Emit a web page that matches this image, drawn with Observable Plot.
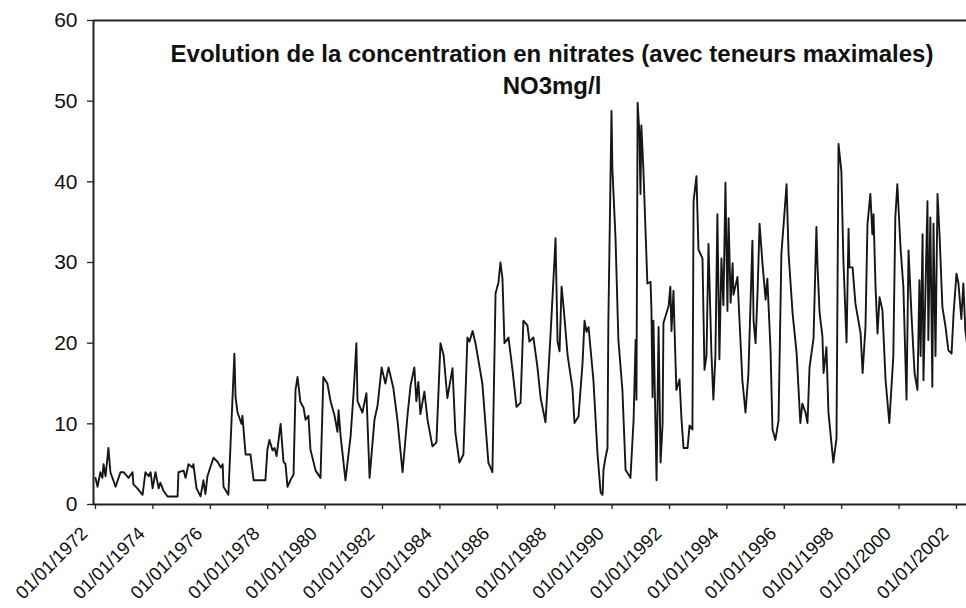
<!DOCTYPE html>
<html>
<head>
<meta charset="utf-8">
<script src="https://cdn.jsdelivr.net/npm/d3@7"></script>
<script src="https://cdn.jsdelivr.net/npm/@observablehq/plot@0.6"></script>
<style>
  html, body { margin: 0; padding: 0; background: #fff; }
  #chart { width: 966px; height: 608px; overflow: hidden; }
</style>
</head>
<body>
<div id="chart"></div>
<script>
const titleLine1 = "Evolution de la concentration en nitrates (avec teneurs maximales)";
const titleLine2 = "NO3mg/l";

const xTicks = [1972, 1974, 1976, 1978, 1980, 1982, 1984, 1986, 1988, 1990, 1992, 1994, 1996, 1998, 2000, 2002];
const yTicks = [0, 10, 20, 30, 40, 50, 60];

// sampling dates (decimal years)
const years = [
  1972.00, 1972.07, 1972.17, 1972.24, 1972.28, 1972.35, 1972.45, 1972.52, 1972.70, 1972.87,
  1972.98, 1973.15, 1973.29, 1973.32, 1973.46, 1973.64, 1973.74, 1973.85, 1973.92, 1973.99,
  1974.09, 1974.20, 1974.26, 1974.37, 1974.51, 1974.86, 1974.89, 1975.07, 1975.14, 1975.24,
  1975.38, 1975.41, 1975.52, 1975.66, 1975.76, 1975.83, 1975.90, 1976.11, 1976.25, 1976.36,
  1976.43, 1976.46, 1976.63, 1976.84, 1976.88, 1976.95, 1977.09, 1977.12, 1977.23, 1977.40,
  1977.51, 1977.92, 1977.99, 1978.06, 1978.17, 1978.24, 1978.31, 1978.45, 1978.55, 1978.62,
  1978.69, 1978.83, 1978.90, 1978.97, 1979.04, 1979.14, 1979.25, 1979.32, 1979.42, 1979.49,
  1979.67, 1979.84, 1979.94, 1980.08, 1980.19, 1980.33, 1980.43, 1980.47, 1980.54, 1980.71,
  1980.89, 1980.99, 1981.09, 1981.13, 1981.30, 1981.44, 1981.55, 1981.72, 1981.83, 1981.97,
  1982.10, 1982.21, 1982.38, 1982.52, 1982.70, 1982.87, 1982.98, 1983.11, 1983.18, 1983.25,
  1983.32, 1983.46, 1983.57, 1983.74, 1983.88, 1984.02, 1984.13, 1984.26, 1984.44, 1984.54,
  1984.68, 1984.82, 1984.96, 1985.03, 1985.14, 1985.24, 1985.48, 1985.69, 1985.83, 1985.94,
  1986.04, 1986.11, 1986.18, 1986.25, 1986.39, 1986.53, 1986.67, 1986.81, 1986.91, 1987.05,
  1987.12, 1987.26, 1987.40, 1987.51, 1987.68, 1987.85, 1987.96, 1988.03, 1988.10, 1988.17,
  1988.24, 1988.31, 1988.45, 1988.62, 1988.69, 1988.83, 1988.97, 1989.04, 1989.11, 1989.18,
  1989.35, 1989.49, 1989.60, 1989.67, 1989.70, 1989.77, 1989.84, 1989.87, 1989.98, 1990.01,
  1990.12, 1990.22, 1990.36, 1990.47, 1990.64, 1990.75, 1990.82, 1990.85, 1990.89, 1990.95,
  1990.99, 1991.02, 1991.09, 1991.23, 1991.34, 1991.37, 1991.41, 1991.44, 1991.55, 1991.62,
  1991.69, 1991.76, 1991.79, 1991.86, 1991.97, 1992.03, 1992.07, 1992.14, 1992.17, 1992.24,
  1992.35, 1992.42, 1992.49, 1992.63, 1992.70, 1992.80, 1992.84, 1992.94, 1993.01, 1993.15,
  1993.22, 1993.29, 1993.36, 1993.46, 1993.53, 1993.60, 1993.67, 1993.74, 1993.81, 1993.88,
  1993.95, 1994.02, 1994.06, 1994.13, 1994.20, 1994.23, 1994.37, 1994.44, 1994.54, 1994.65,
  1994.75, 1994.89, 1994.93, 1995.00, 1995.07, 1995.14, 1995.24, 1995.35, 1995.41, 1995.52,
  1995.59, 1995.69, 1995.80, 1995.90, 1995.97, 1996.08, 1996.15, 1996.29, 1996.43, 1996.56,
  1996.63, 1996.74, 1996.81, 1996.88, 1997.02, 1997.12, 1997.16, 1997.23, 1997.33, 1997.37,
  1997.47, 1997.54, 1997.71, 1997.82, 1997.89, 1997.99, 1998.06, 1998.17, 1998.24, 1998.27,
  1998.38, 1998.48, 1998.66, 1998.73, 1998.83, 1998.90, 1999.00, 1999.07, 1999.11, 1999.18,
  1999.25, 1999.32, 1999.42, 1999.53, 1999.66, 1999.80, 1999.87, 1999.94, 2000.05, 2000.15,
  2000.26, 2000.33, 2000.43, 2000.54, 2000.64, 2000.71, 2000.75, 2000.82, 2000.85, 2000.99,
  2001.02, 2001.09, 2001.16, 2001.20, 2001.27, 2001.34, 2001.41, 2001.51, 2001.62, 2001.72,
  2001.83, 2001.90, 2002.00, 2002.07, 2002.17, 2002.24, 2002.31, 2002.38
];

// nitrate concentration, NO3 mg/l
const no3 = [
  3.3, 2.2, 4.0, 3.3, 5.0, 3.5, 7.0, 4.0, 2.2, 4.0,
  4.0, 3.3, 4.0, 2.5, 2.0, 1.2, 4.0, 3.5, 4.0, 2.0,
  4.0, 2.0, 2.7, 1.7, 1.0, 1.0, 4.0, 4.2, 3.3, 5.0,
  4.6, 5.0, 2.0, 1.0, 3.0, 1.3, 3.5, 5.8, 5.3, 4.6,
  5.0, 2.2, 1.2, 18.7, 13.3, 11.4, 10.0, 11.0, 6.2, 6.2,
  3.0, 3.0, 6.8, 8.0, 6.7, 7.0, 6.0, 10.0, 5.3, 5.0,
  2.2, 3.3, 3.7, 14.2, 15.8, 12.7, 12.0, 10.5, 11.0, 6.8,
  4.2, 3.3, 15.8, 15.0, 12.8, 11.0, 9.0, 11.7, 8.5, 3.0,
  8.5, 13.7, 20.0, 12.8, 11.4, 13.8, 3.3, 10.5, 12.3, 17.0,
  15.0, 17.0, 14.4, 10.5, 4.0, 11.0, 14.8, 17.0, 12.8, 15.2,
  11.2, 14.0, 10.5, 7.2, 7.7, 20.0, 18.5, 13.2, 16.9, 8.9,
  5.2, 6.2, 20.7, 20.2, 21.5, 20.0, 15.0, 5.2, 4.0, 26.2,
  27.5, 30.0, 28.0, 20.0, 20.7, 16.7, 12.1, 12.6, 22.8, 22.2,
  20.2, 20.7, 17.0, 13.2, 10.2, 20.7, 28.1, 33.0, 20.2, 19.0,
  27.0, 24.5, 18.5, 14.4, 10.1, 10.9, 17.5, 22.8, 21.4, 22.0,
  15.4, 6.4, 1.5, 1.2, 4.3, 5.8, 7.0, 22.5, 48.8, 41.7,
  33.0, 20.4, 14.2, 4.3, 3.3, 10.5, 20.4, 13.0, 49.8, 46.2,
  38.5, 47.0, 41.6, 27.4, 27.6, 24.4, 13.3, 22.8, 3.0, 22.0,
  5.2, 10.0, 22.5, 23.3, 24.6, 27.0, 21.5, 26.5, 22.5, 14.2,
  15.5, 10.5, 7.0, 7.0, 9.8, 9.3, 37.6, 40.7, 31.6, 30.5,
  16.7, 18.5, 32.3, 18.9, 13.0, 18.4, 36.0, 18.0, 30.5, 24.7,
  39.9, 24.0, 35.5, 25.0, 29.9, 26.0, 28.2, 22.8, 15.4, 11.4,
  16.2, 32.7, 22.8, 20.0, 26.4, 34.8, 29.9, 25.4, 28.0, 19.3,
  9.3, 8.0, 10.4, 31.1, 34.4, 39.7, 31.1, 23.7, 18.8, 10.1,
  12.5, 11.4, 10.1, 17.0, 20.6, 34.4, 29.4, 23.8, 20.8, 16.3,
  19.5, 11.4, 5.2, 8.2, 44.7, 41.3, 30.3, 20.1, 34.2, 29.4,
  29.4, 24.9, 21.2, 16.3, 22.0, 34.8, 38.5, 33.5, 36.0, 27.0,
  21.2, 25.7, 24.1, 15.4, 10.1, 18.4, 35.6, 39.7, 31.9, 27.0,
  13.0, 31.5, 23.7, 16.3, 14.2, 27.8, 18.4, 33.5, 15.4, 37.6,
  20.4, 35.6, 14.6, 34.8, 18.4, 38.5, 33.5, 24.5, 22.0, 19.1,
  18.7, 23.7, 28.6, 27.4, 23.0, 27.4, 21.6, 19.5
];

const data = years.map((t, i) => ({t, v: no3[i]}));

const chart = Plot.plot({
  width: 966,
  height: 608,
  marginLeft: 93,
  marginRight: 0,
  marginTop: 20,
  marginBottom: 104,
  style: {fontFamily: "'Liberation Sans', Arial, sans-serif", color: "#111", background: "#fff"},
  x: {domain: [1971.93, 2002.35]},
  y: {domain: [0, 60]},
  marks: [
    Plot.axisY({ticks: yTicks, tickSize: 6, tickPadding: 10, fontSize: 21, label: null, stroke: "#222", strokeWidth: 1.3}),
    // tick marks only
    Plot.axisX({ticks: xTicks, tickSize: 5, fill: "none", label: null, stroke: "#222", strokeWidth: 1.3}),
    // rotated labels only
    Plot.axisX({ticks: xTicks, tickFormat: d => `01/01/${d}`, tickRotate: -45, tickSize: 0, tickPadding: 4, fontSize: 18.5, label: null, fill: "#111", dx: -11, dy: 22}),
    Plot.ruleY([60], {stroke: "#222", strokeWidth: 2}),
    Plot.ruleY([0], {stroke: "#222", strokeWidth: 2}),
    Plot.ruleX([1971.93], {stroke: "#222", strokeWidth: 2}),
    Plot.line(data, {x: "t", y: "v", stroke: "#161616", strokeWidth: 1.9, strokeLinejoin: "round", clip: true}),
    Plot.text([titleLine1], {frameAnchor: "top", dx: 22, dy: 24, fontSize: 24, fontWeight: "bold", fill: "#111"}),
    Plot.text([titleLine2], {frameAnchor: "top", dx: 22, dy: 56, fontSize: 24, fontWeight: "bold", fill: "#111"})
  ]
});
document.getElementById("chart").append(chart);
</script>
</body>
</html>
